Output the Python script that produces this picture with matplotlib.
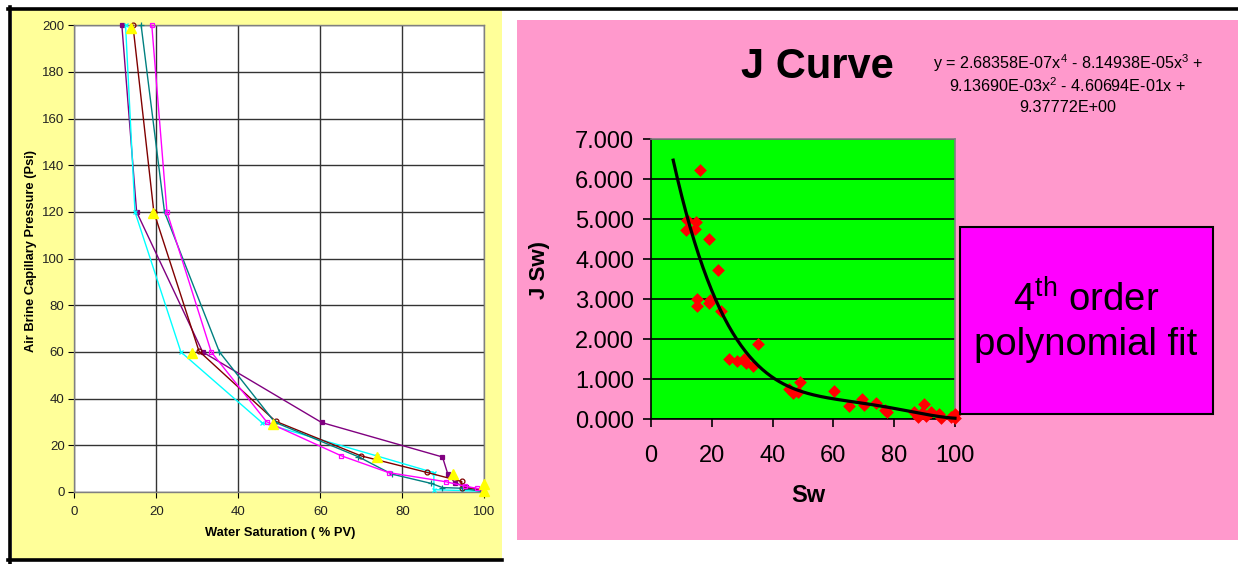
import matplotlib
matplotlib.use("Agg")
import matplotlib.pyplot as plt
import numpy as np
from matplotlib.lines import Line2D
from matplotlib.patches import Rectangle
from matplotlib.ticker import FormatStrFormatter

plt.rcParams["font.family"] = ["Liberation Sans", "DejaVu Sans"]
plt.rcParams["mathtext.fontset"] = "custom"
plt.rcParams["mathtext.rm"] = "Liberation Sans"
plt.rcParams["mathtext.it"] = "Liberation Sans"

# ---- left chart: capillary pressure curves (Sw %PV, Pc psi) ----
purple_sw = [11.6, 15.2, 31.3, 60.3, 89.8, 91.1, 92.8, 95.5, 99.7]
purple_pc = [200, 120, 60, 29.8, 15.0, 7.7, 4.0, 2.2, 0.9]
cyan_sw = [12.5, 14.8, 26.0, 45.8, 73.9, 87.7, 87.7, 100]
cyan_pc = [200, 120, 60, 29.7, 15.4, 8.3, 1.0, 0.3]
maroon_sw = [14.3, 19.4, 30.4, 49.1, 69.9, 86.0, 94.5, 94.5, 99.6]
maroon_pc = [200, 120, 60.4, 30.3, 15.5, 8.4, 4.5, 1.8, 0.9]
teal_sw = [16.3, 22.0, 35.4, 48.9, 69.3, 77.4, 87.0, 89.8, 94.6, 100]
teal_pc = [200, 120, 60, 29.9, 15.1, 7.7, 3.7, 1.9, 1.6, 0.1]
magenta_sw = [18.9, 22.6, 33.4, 46.9, 65.0, 76.7, 90.6, 95.3, 98.1, 99.8]
magenta_pc = [200, 120, 60, 30.1, 15.6, 8.3, 4.4, 2.5, 1.6, 0.9]
yellow_sw = [13.9, 19.3, 28.7, 48.5, 73.8, 92.4, 100, 100]
yellow_pc = [199, 119.5, 59.5, 29.2, 14.9, 7.7, 3.5, 0.5]

left_xticks = [0, 20, 40, 60, 80, 100]
left_yticks = [0, 20, 40, 60, 80, 100, 120, 140, 160, 180, 200]

# ---- right chart: J function scatter + 4th order fit ----
j_sw = [16.1, 11.7, 11.4, 14.8, 14.4, 19.0, 21.9, 15.1, 15.1, 19.0, 19.4, 23.0,
        35.3, 25.8, 28.4, 30.6, 31.3, 33.7, 45.5, 46.8, 49.0, 48.3, 60.3, 65.2,
        69.4, 70.2, 74.0, 77.1, 77.5, 86.5, 87.7, 89.8, 89.0, 90.5, 92.1, 94.8,
        95.4, 98.6, 100.0, 100.0]
j_val = [6.22, 4.97, 4.72, 4.93, 4.75, 4.50, 3.72, 2.99, 2.83, 2.91, 2.97, 2.70,
         1.88, 1.51, 1.45, 1.49, 1.41, 1.33, 0.76, 0.66, 0.92, 0.68, 0.70, 0.33,
         0.49, 0.35, 0.39, 0.23, 0.18, 0.17, 0.06, 0.37, 0.14, 0.08, 0.17, 0.12,
         0.03, 0.06, 0.12, 0.02]
fit_coeffs = [2.68358e-07, -8.14938e-05, 9.13690e-03, -4.60694e-01, 9.37772e00]
fit_sw_range = (7.3, 100.0)
right_xticks = [0, 20, 40, 60, 80, 100]
right_yticks = [0, 1, 2, 3, 4, 5, 6, 7]

W, H = 1238, 564


def box(x0, y0, x1, y1):
    """pixel box (top-left origin) -> figure fraction rect"""
    return [x0 / W, 1 - y1 / H, (x1 - x0) / W, (y1 - y0) / H]


def fxy(px, py):
    return px / W, 1 - py / H


def fig_rect(x0, y0, x1, y1, **kw):
    l, b, w, h = box(x0, y0, x1, y1)
    return Rectangle((l, b), w, h, transform=fig.transFigure, **kw)


fig = plt.figure(figsize=(W / 100, H / 100), dpi=100)
fig.patch.set_facecolor("white")

# panel backgrounds
fig.add_artist(fig_rect(12, 10, 502, 559, facecolor="#FFFF99",
                        edgecolor="none", zorder=0))
fig.add_artist(fig_rect(517, 20, 1238, 540, facecolor="#FF99CC",
                        edgecolor="none", zorder=0))
# black frame lines
for (xa, ya), (xb, yb) in [((8, 8.5), (1238, 8.5)), ((9.8, 7), (9.8, 564)),
                           ((8, 560), (502, 560))]:
    p0, p1 = fxy(xa, ya), fxy(xb, yb)
    fig.add_artist(Line2D([p0[0], p1[0]], [p0[1], p1[1]], color="black",
                          lw=2.6, transform=fig.transFigure, zorder=1))

# ---------------- left chart ----------------
ax1 = fig.add_axes(box(74.3, 25.3, 484.3, 492))
ax1.set_facecolor("white")
series = [
    (purple_sw, purple_pc, "#800080", "s", 2.5, "#800080"),
    (cyan_sw, cyan_pc, "#00FFFF", "x", 3, "#00FFFF"),
    (maroon_sw, maroon_pc, "#800000", "o", 3.5, "none"),
    (teal_sw, teal_pc, "#008080", "+", 4, "#008080"),
    (magenta_sw, magenta_pc, "#FF00FF", "s", 3.5, "none"),
]
for sx, sy, col, mk, ms, mfc in series:
    ax1.plot(sx, sy, color=col, lw=1.0, marker=mk, ms=ms, mfc=mfc,
             mec=col, mew=0.9, clip_on=False, zorder=3)
ax1.plot(yellow_sw, yellow_pc, ls="none", marker="^", ms=7, color="#FFFF00",
         mec="#FFFF00", clip_on=False, zorder=4)
ax1.set_xlim(0, 100)
ax1.set_ylim(0, 200)
ax1.set_xticks(left_xticks)
ax1.set_yticks(left_yticks)
ax1.grid(True, color="#333333", lw=1.0)
ax1.set_axisbelow(True)
for s in ax1.spines.values():
    s.set_color("#808080")
    s.set_linewidth(1.0)
ax1.tick_params(labelsize=9.5, length=4, width=0.8, color="black", pad=3,
                labelcolor="#222222")
ax1.tick_params(axis="x", pad=6)
fig.text(*fxy(280, 533), "Water Saturation ( % PV)", ha="center", va="center",
         fontsize=9.3, fontweight="bold")
fig.text(*fxy(31, 251), "Air Brine Capillary Pressure (Psi)", ha="center",
         va="center", rotation=90, fontsize=9.3, fontweight="bold")

# ---------------- right chart ----------------
ax2 = fig.add_axes(box(651, 139, 955, 419))
ax2.set_facecolor("#00FF00")
ax2.scatter(j_sw, j_val, marker="D", s=42, color="#FF0000", linewidths=0,
            clip_on=False, zorder=3)
fit_x = np.linspace(fit_sw_range[0], fit_sw_range[1], 200)
ax2.plot(fit_x, np.polyval(fit_coeffs, fit_x), color="black", lw=2.3,
         zorder=4, clip_on=False)
ax2.set_xlim(0, 100)
ax2.set_ylim(0, 7)
ax2.set_xticks(right_xticks)
ax2.set_yticks(right_yticks)
ax2.yaxis.set_major_formatter(FormatStrFormatter("%.3f"))
ax2.yaxis.grid(True, color="black", lw=1.2)
ax2.set_axisbelow(True)
ax2.spines["left"].set_color("black")
ax2.spines["bottom"].set_color("black")
ax2.spines["top"].set_color("#808080")
ax2.spines["right"].set_color("#808080")
for s in ax2.spines.values():
    s.set_linewidth(1.2)
ax2.tick_params(labelsize=17, length=6, width=1.2, pad=6)
ax2.tick_params(axis="x", pad=13)
fig.text(*fxy(808, 495), "Sw", ha="center", va="center", fontsize=17,
         fontweight="bold")
fig.text(*fxy(539, 270), "J Sw)", ha="center", va="center", rotation=90,
         fontsize=16, fontweight="bold")
fig.text(*fxy(817, 67), "J Curve", ha="center", va="center", fontsize=30,
         fontweight="bold")


def coef_str(c, power):
    mag = f"{abs(c):.5E}"
    if power == 0:
        return mag
    if power == 1:
        return mag + "x"
    return mag + "x$^{%d}$" % power


def sign_str(c):
    return "+" if c >= 0 else "-"


c4, c3, c2, c1, c0 = fit_coeffs
eq_lines = [
    f"y = {coef_str(c4, 4)} {sign_str(c3)} {coef_str(c3, 3)} {sign_str(c2)}",
    f"{coef_str(c2, 2)} {sign_str(c1)} {coef_str(c1, 1)} {sign_str(c0)}",
    coef_str(c0, 0),
]
for i, line in enumerate(eq_lines):
    fig.text(*fxy(1068, 63 + 22.5 * i), line, ha="center", va="center",
             fontsize=11.6)

# magenta annotation box
fig.add_artist(fig_rect(960, 227, 1213, 414, facecolor="#FF00FF",
                        edgecolor="black", lw=1.5, zorder=2))
fig.text(*fxy(1086, 300), "4$^{\\mathrm{th}}$ order", ha="center",
         va="center", fontsize=27.5, zorder=3)
fig.text(*fxy(1086, 345), "polynomial fit", ha="center", va="center",
         fontsize=27.5, zorder=3)

fig.savefig("out.png", dpi=100, facecolor="white")
